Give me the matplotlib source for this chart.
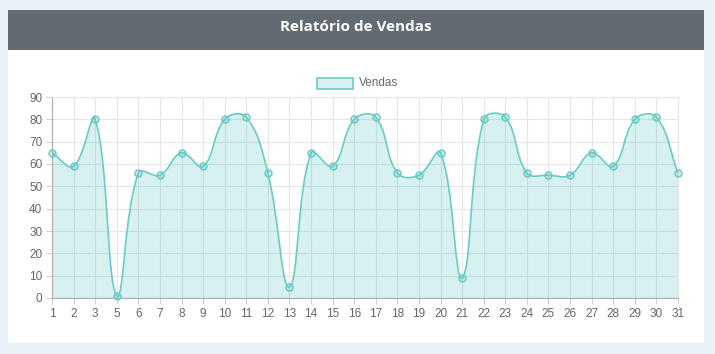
import numpy as np
import matplotlib
matplotlib.use("Agg")
import matplotlib.pyplot as plt
from matplotlib.path import Path
from matplotlib.patches import PathPatch, Rectangle

# dados do grafico
dias = ["1", "2", "3", "5", "6", "7", "8", "9", "10", "11", "12", "13", "14", "15", "16",
        "17", "18", "19", "20", "21", "22", "23", "24", "25", "26", "27", "28", "29", "30", "31"]
vendas = [65, 59, 80, 1, 56, 55, 65, 59, 80, 81, 56, 5, 65, 59, 80,
          81, 56, 55, 65, 9, 80, 81, 56, 55, 55, 65, 59, 80, 81, 56]
titulo = "Relatório de Vendas"
rotulo_serie = "Vendas"

W, H = 715, 354
linha = "#6ccbc6"
preenchimento = (75 / 255, 192 / 255, 192 / 255, 0.22)

fig = plt.figure(figsize=(W / 100, H / 100), dpi=100)
fig.patch.set_facecolor("#e9f1f8")

# cartao branco e cabecalho
fig.patches.append(Rectangle((8 / W, 1 - 343 / H), 696 / W, 333 / H, transform=fig.transFigure,
                             facecolor="white", edgecolor="none", zorder=-2))
fig.patches.append(Rectangle((8 / W, 1 - 50 / H), 696 / W, 40 / H, transform=fig.transFigure,
                             facecolor="#636b72", edgecolor="none", zorder=-1))
fig.text(356 / W, 1 - 27 / H, titulo, color="white", fontsize=11, fontweight="bold",
         family="Open Sans", ha="center", va="center")

ax = fig.add_axes([52 / W, 56 / H, 626 / W, 201 / H])
ax.set_zorder(3)
ax.set_xlim(0, len(dias) - 1)
ax.set_ylim(0, 90)
fig.canvas.draw()

# curva suave no estilo Chart.js (tension 0.4), calculada em pixels
x = np.arange(len(vendas))
pts = ax.transData.transform(np.column_stack([x, vendas]))
tension = 0.4
verts = [pts[0]]
codes = [Path.MOVETO]
cps = []
for i in range(len(pts)):
    prev = pts[max(i - 1, 0)]
    cur = pts[i]
    nxt = pts[min(i + 1, len(pts) - 1)]
    d01 = np.hypot(*(cur - prev))
    d12 = np.hypot(*(nxt - cur))
    tot = d01 + d12 if d01 + d12 else 1
    fa = tension * d01 / tot
    fb = tension * d12 / tot
    cps.append((cur - fa * (nxt - prev), cur + fb * (nxt - prev)))
for i in range(1, len(pts)):
    verts += [cps[i - 1][1], cps[i][0], pts[i]]
    codes += [Path.CURVE4] * 3
inv = ax.transData.inverted()
verts_d = inv.transform(np.array(verts))

curva = Path(verts_d, codes)
area = Path(np.vstack([verts_d, [[x[-1], 0], [x[0], 0], verts_d[0]]]),
            codes + [Path.LINETO, Path.LINETO, Path.CLOSEPOLY])
ax.add_patch(PathPatch(area, facecolor=preenchimento, edgecolor="none", zorder=2))
ax.add_patch(PathPatch(curva, facecolor="none", edgecolor=linha, lw=1.2, zorder=3))
ax.plot(x, vendas, "o", ms=5, mfc=preenchimento, mec=linha, mew=1.1, zorder=4, clip_on=False)

# eixos e grade
ax.set_xticks(x)
ax.set_xticklabels(dias)
ax.set_yticks(range(0, 91, 10))
ax.grid(True, color="#e6e6e6", lw=0.8)
ax.set_axisbelow(True)
for lado in ["top", "right"]:
    ax.spines[lado].set_color("#e6e6e6")
    ax.spines[lado].set_linewidth(0.8)
for lado in ["left", "bottom"]:
    ax.spines[lado].set_color("#b0b0b0")
    ax.spines[lado].set_linewidth(0.9)
ax.tick_params(length=4, width=0.8, color="#d0d0d0", labelsize=8.5, labelcolor="#666666", pad=3)
for lbl in ax.get_xticklabels() + ax.get_yticklabels():
    lbl.set_family("Liberation Sans")

# legenda
fig.patches.append(Rectangle((317 / W, 1 - 89 / H), 36 / W, 11 / H, transform=fig.transFigure,
                             facecolor=preenchimento, edgecolor=linha, lw=1.2, zorder=5))
fig.text(359 / W, 1 - 83.5 / H, rotulo_serie, color="#666666", fontsize=8.5,
         family="Liberation Sans", ha="left", va="center")

fig.savefig("out.png", dpi=100)
